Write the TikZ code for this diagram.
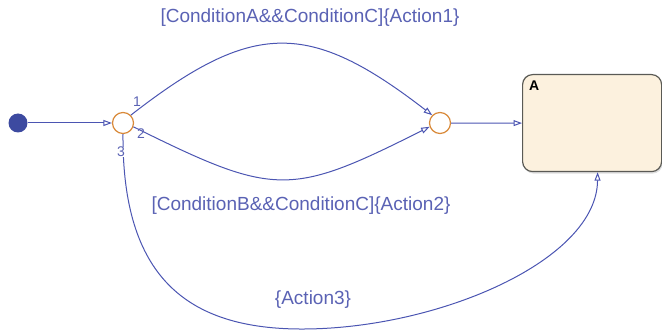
\documentclass[tikz,border=0pt]{standalone}
\usepackage{fontspec}
\setmainfont{Liberation Sans}
\usetikzlibrary{arrows.meta,shadows}
\definecolor{ln}{HTML}{4B55B2}
\definecolor{tx}{HTML}{5A62B4}
\definecolor{jc}{HTML}{D98A3A}
\definecolor{dotc}{HTML}{3D4AA0}
\definecolor{stf}{HTML}{FCF1DE}
\definecolor{stb}{HTML}{5A5A55}
\begin{document}
\begin{tikzpicture}[x=1pt,y=-1pt,
  tr/.style={draw=ln, line width=1pt, -{Triangle[open,length=8.5pt,width=6pt]}},
  junc/.style={circle, draw=jc, fill=white, line width=1.2pt, minimum size=21pt, inner sep=0pt},
  dotn/.style={circle, fill=dotc, minimum size=19pt, inner sep=0pt},
  lbl/.style={text=tx, font=\fontsize{19}{21}\selectfont, inner sep=1pt},
  num/.style={text=tx, font=\fontsize{14}{16}\selectfont, inner sep=0.5pt},
  statebox/.style={draw=stb, fill=stf, line width=1.2pt, rounded corners=10pt,
     minimum width=139pt, minimum height=97pt, anchor=north west,
     drop shadow={opacity=0.25, shadow xshift=1pt, shadow yshift=-2pt}}]
\useasboundingbox (0,0) rectangle (662,331);
\clip (0,0) rectangle (662,331);
\node[statebox] (A) at (522,74) {};
\node[anchor=north west, font=\fontsize{14}{16}\selectfont\bfseries, inner sep=0pt] (An) at (529,81) {A};
\node[dotn] (init) at (18,123) {};
\node[junc] (j1) at (123,123) {};
\node[junc] (j2) at (440,123) {};
\draw[tr] (init) -- (j1);
\draw[tr] (j2) -- (A.west);
\draw[tr] (j1.45) .. controls (253,20) and (309,20) .. (j2.135);
\draw[tr] (j1.-20) .. controls (275,197) and (290,197) .. (j2.-160);
\draw[tr] (j1.south) .. controls (122,275) and (185,330) .. (305,329)
   .. controls (440,328) and (597,260) .. ([xshift=5.5pt]A.south);
\node[num] (n1) at (137,102) {1};
\node[num] (n2) at (141,134) {2};
\node[num, fill=white] (n3) at (121,152) {3};
\node[lbl] (l1) at (310,18) {[ConditionA\&\&ConditionC]\{Action1\}};
\node[lbl] (l2) at (301,206) {[ConditionB\&\&ConditionC]\{Action2\}};
\node[lbl] (l3) at (313,300) {\{Action3\}};
\end{tikzpicture}
\end{document}
